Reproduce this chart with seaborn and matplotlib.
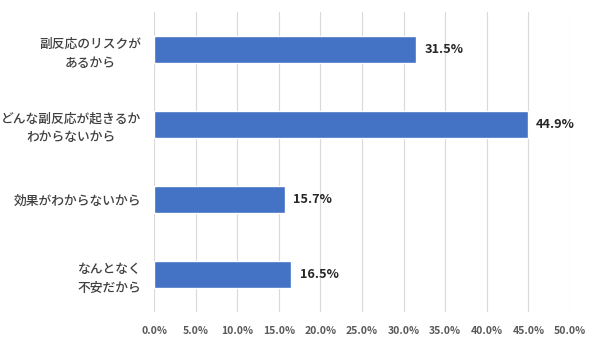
import matplotlib
matplotlib.use("Agg")
import matplotlib.pyplot as plt
import seaborn as sns
import pandas as pd
from matplotlib.ticker import FuncFormatter, MultipleLocator

categories = ["副反応のリスクが\nあるから", "どんな副反応が起きるか\nわからないから", "効果がわからないから", "なんとなく\n不安だから"]
values = [31.5, 44.9, 15.7, 16.5]

sns.set_theme(style="white")
plt.rcParams['font.family'] = ['Noto Sans CJK JP', 'DejaVu Sans']

df = pd.DataFrame({"category": categories, "value": values})

fig = plt.figure(figsize=(6, 3.43), dpi=100)
ax = fig.add_axes([154/600, 1-312/343, (570-154)/600, 300/343])
sns.barplot(data=df, x="value", y="category", orient="h", color="#4472C4",
            saturation=1, width=0.35, ax=ax, zorder=3)
ax.set_xlim(0, 50)
ax.xaxis.set_major_locator(MultipleLocator(5))
ax.xaxis.set_major_formatter(FuncFormatter(lambda v, p: f"{v:.1f}%"))
ax.grid(axis="x", color="#D9D9D9", linewidth=0.8, zorder=0)
ax.set_axisbelow(True)
for s in ax.spines.values():
    s.set_visible(False)
ax.set_xlabel("")
ax.set_ylabel("")
ax.tick_params(axis="both", length=0)
ax.tick_params(axis="x", pad=10, labelsize=7.5, labelcolor="#595959")
ax.tick_params(axis="y", pad=9, labelsize=9.2, labelcolor="#404040")
for lab in ax.get_xticklabels():
    lab.set_fontweight("bold")
for lab in ax.get_yticklabels():
    lab.set_horizontalalignment("right")
    lab.set_multialignment("center")
    lab.set_linespacing(1.55)
    lab.set_fontweight("medium")
for p, v in zip(ax.patches, values):
    ax.text(p.get_width() + 1.0, p.get_y() + p.get_height()/2, f"{v:.1f}%",
            va="center", ha="left", fontsize=9.2, fontweight="bold", color="#262626")
fig.savefig("out.png", dpi=100)
